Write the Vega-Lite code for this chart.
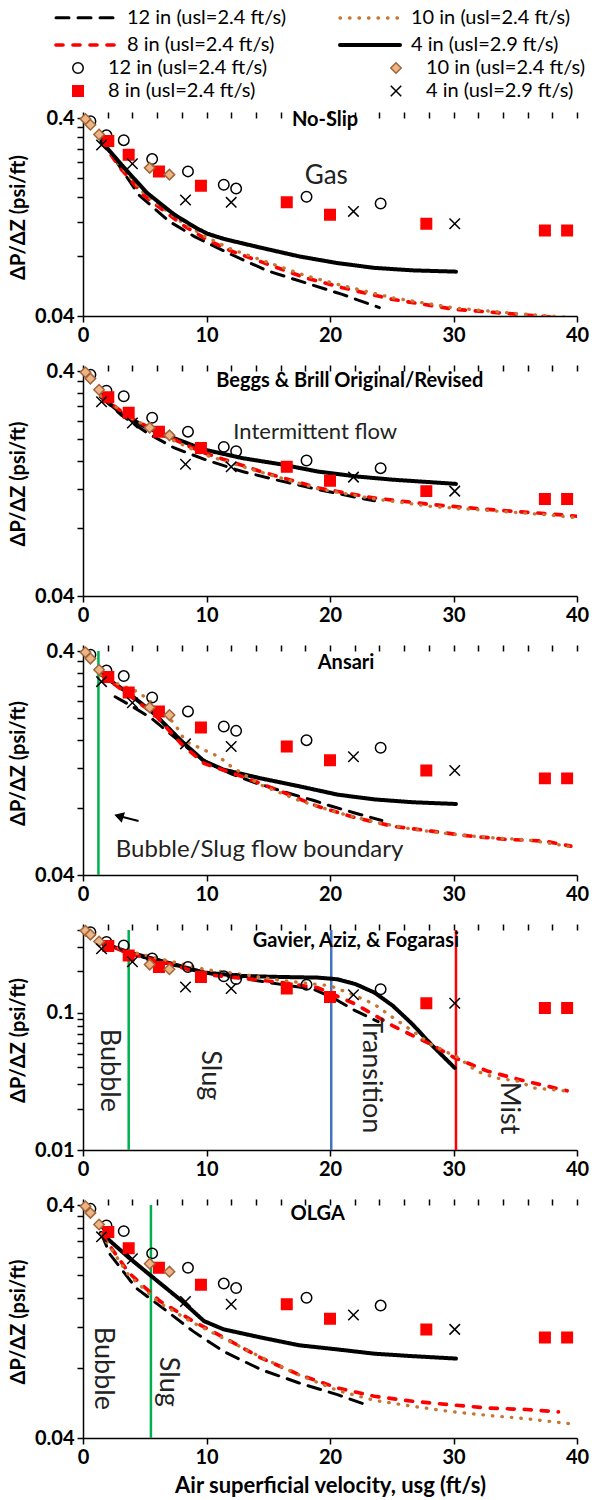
{
  "$schema": "https://vega.github.io/schema/vega-lite/v6.json",
  "background": "white",
  "padding": {"left": 8, "top": 6, "right": 5, "bottom": 5},
  "bounds": "flush",
  "spacing": 55,
  "resolve": {"scale": {"x": "independent", "y": "independent"}},
  "config": {
    "view": {"stroke": null},
    "font": "Lato",
    "axis": {"domainColor": "black", "domainWidth": 1.5, "tickColor": "black", "tickWidth": 1.5, "tickSize": 6, "labelColor": "black", "labelFont": "Lato", "labelFontSize": 20, "labelFontWeight": "bold", "labelFlush": false, "labelOverlap": false, "titleFont": "Lato", "titleFontSize": 20, "titleFontWeight": "bold", "titleColor": "black", "grid": false, "labelPadding": 3},
    "axisY": {"titlePadding": 6},
    "axisX": {"titlePadding": 8, "titleFontSize": 22},
    "legend": {"labelFont": "Lato", "labelFontSize": 20, "labelColor": "black", "labelLimit": 400}
  },
  "datasets": {
    "pts": [
      {"e": "12", "x": 0.6, "y": 0.385}, {"e": "12", "x": 1.9, "y": 0.327}, {"e": "12", "x": 3.3, "y": 0.309}, {"e": "12", "x": 5.6, "y": 0.248}, {"e": "12", "x": 8.5, "y": 0.215}, {"e": "12", "x": 11.4, "y": 0.184}, {"e": "12", "x": 12.4, "y": 0.176}, {"e": "12", "x": 18.1, "y": 0.16}, {"e": "12", "x": 24.1, "y": 0.148},
      {"e": "8", "x": 2.05, "y": 0.306}, {"e": "8", "x": 3.7, "y": 0.261}, {"e": "8", "x": 6.15, "y": 0.215}, {"e": "8", "x": 9.55, "y": 0.182}, {"e": "8", "x": 16.5, "y": 0.15}, {"e": "8", "x": 20, "y": 0.13}, {"e": "8", "x": 27.8, "y": 0.117}, {"e": "8", "x": 37.4, "y": 0.108}, {"e": "8", "x": 39.2, "y": 0.108},
      {"e": "10", "x": 0.2, "y": 0.395}, {"e": "10", "x": 0.6, "y": 0.37}, {"e": "10", "x": 1.3, "y": 0.33}, {"e": "10", "x": 5.4, "y": 0.224}, {"e": "10", "x": 7.0, "y": 0.207},
      {"e": "4", "x": 1.5, "y": 0.292}, {"e": "4", "x": 4.0, "y": 0.235}, {"e": "4", "x": 8.3, "y": 0.154}, {"e": "4", "x": 12.0, "y": 0.15}, {"e": "4", "x": 21.9, "y": 0.135}, {"e": "4", "x": 30.1, "y": 0.117}
    ],
    "lines": [
      {"p": "noslip", "m": "12 in", "x": 1.5, "y": 0.305}, {"p": "noslip", "m": "12 in", "x": 2.5, "y": 0.252}, {"p": "noslip", "m": "12 in", "x": 4.5, "y": 0.164}, {"p": "noslip", "m": "12 in", "x": 7, "y": 0.12}, {"p": "noslip", "m": "12 in", "x": 9, "y": 0.101}, {"p": "noslip", "m": "12 in", "x": 12, "y": 0.0818}, {"p": "noslip", "m": "12 in", "x": 15, "y": 0.0674}, {"p": "noslip", "m": "12 in", "x": 18, "y": 0.0589}, {"p": "noslip", "m": "12 in", "x": 21, "y": 0.0514}, {"p": "noslip", "m": "12 in", "x": 24, "y": 0.0441},
      {"p": "noslip", "m": "8 in", "x": 1.5, "y": 0.305}, {"p": "noslip", "m": "8 in", "x": 3, "y": 0.224}, {"p": "noslip", "m": "8 in", "x": 5, "y": 0.161}, {"p": "noslip", "m": "8 in", "x": 8, "y": 0.116}, {"p": "noslip", "m": "8 in", "x": 10, "y": 0.0975}, {"p": "noslip", "m": "8 in", "x": 12, "y": 0.0851}, {"p": "noslip", "m": "8 in", "x": 15, "y": 0.0729}, {"p": "noslip", "m": "8 in", "x": 18, "y": 0.0624}, {"p": "noslip", "m": "8 in", "x": 21, "y": 0.0556}, {"p": "noslip", "m": "8 in", "x": 25, "y": 0.0486}, {"p": "noslip", "m": "8 in", "x": 30, "y": 0.0433}, {"p": "noslip", "m": "8 in", "x": 35, "y": 0.0409}, {"p": "noslip", "m": "8 in", "x": 39, "y": 0.039}, {"p": "noslip", "m": "8 in", "x": 40, "y": 0.0385},
      {"p": "noslip", "m": "10 in", "x": 1.5, "y": 0.31}, {"p": "noslip", "m": "10 in", "x": 3, "y": 0.23}, {"p": "noslip", "m": "10 in", "x": 5, "y": 0.165}, {"p": "noslip", "m": "10 in", "x": 8, "y": 0.119}, {"p": "noslip", "m": "10 in", "x": 10, "y": 0.1}, {"p": "noslip", "m": "10 in", "x": 12, "y": 0.087}, {"p": "noslip", "m": "10 in", "x": 15, "y": 0.0745}, {"p": "noslip", "m": "10 in", "x": 18, "y": 0.064}, {"p": "noslip", "m": "10 in", "x": 21, "y": 0.057}, {"p": "noslip", "m": "10 in", "x": 25, "y": 0.0495}, {"p": "noslip", "m": "10 in", "x": 30, "y": 0.044}, {"p": "noslip", "m": "10 in", "x": 35, "y": 0.0412}, {"p": "noslip", "m": "10 in", "x": 39, "y": 0.0395}, {"p": "noslip", "m": "10 in", "x": 40, "y": 0.039},
      {"p": "noslip", "m": "4 in", "x": 1.5, "y": 0.305}, {"p": "noslip", "m": "4 in", "x": 3.1, "y": 0.233}, {"p": "noslip", "m": "4 in", "x": 5.2, "y": 0.167}, {"p": "noslip", "m": "4 in", "x": 7.4, "y": 0.13}, {"p": "noslip", "m": "4 in", "x": 9.2, "y": 0.111}, {"p": "noslip", "m": "4 in", "x": 10.1, "y": 0.104}, {"p": "noslip", "m": "4 in", "x": 11.4, "y": 0.098}, {"p": "noslip", "m": "4 in", "x": 14.4, "y": 0.0885}, {"p": "noslip", "m": "4 in", "x": 17.5, "y": 0.08}, {"p": "noslip", "m": "4 in", "x": 20.6, "y": 0.074}, {"p": "noslip", "m": "4 in", "x": 23.6, "y": 0.07}, {"p": "noslip", "m": "4 in", "x": 26.7, "y": 0.068}, {"p": "noslip", "m": "4 in", "x": 30.2, "y": 0.067},

      {"p": "bb", "m": "4 in", "x": 1.45, "y": 0.308}, {"p": "bb", "m": "4 in", "x": 3.1, "y": 0.26}, {"p": "bb", "m": "4 in", "x": 5.2, "y": 0.223}, {"p": "bb", "m": "4 in", "x": 7.7, "y": 0.198}, {"p": "bb", "m": "4 in", "x": 9.8, "y": 0.179}, {"p": "bb", "m": "4 in", "x": 12.9, "y": 0.164}, {"p": "bb", "m": "4 in", "x": 16, "y": 0.154}, {"p": "bb", "m": "4 in", "x": 19, "y": 0.143}, {"p": "bb", "m": "4 in", "x": 22.1, "y": 0.136}, {"p": "bb", "m": "4 in", "x": 25.1, "y": 0.1315}, {"p": "bb", "m": "4 in", "x": 30.2, "y": 0.126},
      {"p": "bb", "m": "12 in", "x": 1.45, "y": 0.308}, {"p": "bb", "m": "12 in", "x": 3.1, "y": 0.255}, {"p": "bb", "m": "12 in", "x": 5.2, "y": 0.212}, {"p": "bb", "m": "12 in", "x": 7.4, "y": 0.182}, {"p": "bb", "m": "12 in", "x": 10.1, "y": 0.16}, {"p": "bb", "m": "12 in", "x": 12.9, "y": 0.143}, {"p": "bb", "m": "12 in", "x": 15.7, "y": 0.131}, {"p": "bb", "m": "12 in", "x": 19, "y": 0.119}, {"p": "bb", "m": "12 in", "x": 22.4, "y": 0.109}, {"p": "bb", "m": "12 in", "x": 23.6, "y": 0.106},
      {"p": "bb", "m": "8 in", "x": 1.45, "y": 0.31}, {"p": "bb", "m": "8 in", "x": 3.7, "y": 0.25}, {"p": "bb", "m": "8 in", "x": 6.2, "y": 0.212}, {"p": "bb", "m": "8 in", "x": 9.8, "y": 0.173}, {"p": "bb", "m": "8 in", "x": 14.4, "y": 0.143}, {"p": "bb", "m": "8 in", "x": 19, "y": 0.121}, {"p": "bb", "m": "8 in", "x": 23.6, "y": 0.109}, {"p": "bb", "m": "8 in", "x": 28.2, "y": 0.102}, {"p": "bb", "m": "8 in", "x": 32.8, "y": 0.097}, {"p": "bb", "m": "8 in", "x": 37.4, "y": 0.093}, {"p": "bb", "m": "8 in", "x": 40, "y": 0.0905},
      {"p": "bb", "m": "10 in", "x": 1.45, "y": 0.31}, {"p": "bb", "m": "10 in", "x": 3.7, "y": 0.252}, {"p": "bb", "m": "10 in", "x": 6.2, "y": 0.21}, {"p": "bb", "m": "10 in", "x": 9.8, "y": 0.17}, {"p": "bb", "m": "10 in", "x": 14.4, "y": 0.142}, {"p": "bb", "m": "10 in", "x": 19, "y": 0.12}, {"p": "bb", "m": "10 in", "x": 23.6, "y": 0.108}, {"p": "bb", "m": "10 in", "x": 28.2, "y": 0.1}, {"p": "bb", "m": "10 in", "x": 32.8, "y": 0.096}, {"p": "bb", "m": "10 in", "x": 37.4, "y": 0.092}, {"p": "bb", "m": "10 in", "x": 40, "y": 0.089},

      {"p": "ansari", "m": "4 in", "x": 1.45, "y": 0.315}, {"p": "ansari", "m": "4 in", "x": 3.7, "y": 0.259}, {"p": "ansari", "m": "4 in", "x": 5.85, "y": 0.208}, {"p": "ansari", "m": "4 in", "x": 8, "y": 0.158}, {"p": "ansari", "m": "4 in", "x": 9.8, "y": 0.129}, {"p": "ansari", "m": "4 in", "x": 11.4, "y": 0.118}, {"p": "ansari", "m": "4 in", "x": 14.4, "y": 0.108}, {"p": "ansari", "m": "4 in", "x": 17.5, "y": 0.0996}, {"p": "ansari", "m": "4 in", "x": 20.6, "y": 0.0914}, {"p": "ansari", "m": "4 in", "x": 23.6, "y": 0.087}, {"p": "ansari", "m": "4 in", "x": 26.7, "y": 0.0845}, {"p": "ansari", "m": "4 in", "x": 30.2, "y": 0.083},
      {"p": "ansari", "m": "12 in", "x": 2.6, "y": 0.25}, {"p": "ansari", "m": "12 in", "x": 4, "y": 0.226}, {"p": "ansari", "m": "12 in", "x": 5.5, "y": 0.201}, {"p": "ansari", "m": "12 in", "x": 7, "y": 0.172}, {"p": "ansari", "m": "12 in", "x": 8.5, "y": 0.147}, {"p": "ansari", "m": "12 in", "x": 10, "y": 0.128}, {"p": "ansari", "m": "12 in", "x": 12, "y": 0.113}, {"p": "ansari", "m": "12 in", "x": 14, "y": 0.103}, {"p": "ansari", "m": "12 in", "x": 17, "y": 0.0915}, {"p": "ansari", "m": "12 in", "x": 18.7, "y": 0.086}, {"p": "ansari", "m": "12 in", "x": 20, "y": 0.0815}, {"p": "ansari", "m": "12 in", "x": 22, "y": 0.0757}, {"p": "ansari", "m": "12 in", "x": 24.2, "y": 0.07},
      {"p": "ansari", "m": "8 in", "x": 1.45, "y": 0.315}, {"p": "ansari", "m": "8 in", "x": 3.7, "y": 0.255}, {"p": "ansari", "m": "8 in", "x": 5.85, "y": 0.207}, {"p": "ansari", "m": "8 in", "x": 8, "y": 0.153}, {"p": "ansari", "m": "8 in", "x": 9.8, "y": 0.126}, {"p": "ansari", "m": "8 in", "x": 12.9, "y": 0.11}, {"p": "ansari", "m": "8 in", "x": 16, "y": 0.0946}, {"p": "ansari", "m": "8 in", "x": 19, "y": 0.081}, {"p": "ansari", "m": "8 in", "x": 22.1, "y": 0.072}, {"p": "ansari", "m": "8 in", "x": 25.1, "y": 0.066}, {"p": "ansari", "m": "8 in", "x": 28.2, "y": 0.0628}, {"p": "ansari", "m": "8 in", "x": 31.3, "y": 0.0597}, {"p": "ansari", "m": "8 in", "x": 34.3, "y": 0.0577}, {"p": "ansari", "m": "8 in", "x": 37.4, "y": 0.0567}, {"p": "ansari", "m": "8 in", "x": 39.5, "y": 0.0538},
      {"p": "ansari", "m": "10 in", "x": 1.45, "y": 0.315}, {"p": "ansari", "m": "10 in", "x": 2.5, "y": 0.29}, {"p": "ansari", "m": "10 in", "x": 4.5, "y": 0.262}, {"p": "ansari", "m": "10 in", "x": 6, "y": 0.225}, {"p": "ansari", "m": "10 in", "x": 7.4, "y": 0.19}, {"p": "ansari", "m": "10 in", "x": 8.3, "y": 0.158}, {"p": "ansari", "m": "10 in", "x": 11, "y": 0.135}, {"p": "ansari", "m": "10 in", "x": 12, "y": 0.122}, {"p": "ansari", "m": "10 in", "x": 14.4, "y": 0.101}, {"p": "ansari", "m": "10 in", "x": 17.5, "y": 0.086}, {"p": "ansari", "m": "10 in", "x": 20.6, "y": 0.076}, {"p": "ansari", "m": "10 in", "x": 23.6, "y": 0.069}, {"p": "ansari", "m": "10 in", "x": 26.7, "y": 0.064}, {"p": "ansari", "m": "10 in", "x": 29.7, "y": 0.061}, {"p": "ansari", "m": "10 in", "x": 32.8, "y": 0.0588}, {"p": "ansari", "m": "10 in", "x": 35.9, "y": 0.0575}, {"p": "ansari", "m": "10 in", "x": 39.5, "y": 0.0535},

      {"p": "gaf", "m": "4 in", "x": 1.45, "y": 0.325}, {"p": "gaf", "m": "4 in", "x": 3.7, "y": 0.275}, {"p": "gaf", "m": "4 in", "x": 6.8, "y": 0.232}, {"p": "gaf", "m": "4 in", "x": 9.8, "y": 0.196}, {"p": "gaf", "m": "4 in", "x": 12.9, "y": 0.185}, {"p": "gaf", "m": "4 in", "x": 16, "y": 0.182}, {"p": "gaf", "m": "4 in", "x": 19, "y": 0.18}, {"p": "gaf", "m": "4 in", "x": 20.6, "y": 0.175}, {"p": "gaf", "m": "4 in", "x": 22.1, "y": 0.161}, {"p": "gaf", "m": "4 in", "x": 23.6, "y": 0.14}, {"p": "gaf", "m": "4 in", "x": 25.1, "y": 0.112}, {"p": "gaf", "m": "4 in", "x": 26.7, "y": 0.082}, {"p": "gaf", "m": "4 in", "x": 28.2, "y": 0.0586}, {"p": "gaf", "m": "4 in", "x": 30.1, "y": 0.0396},
      {"p": "gaf", "m": "12 in", "x": 1.45, "y": 0.325}, {"p": "gaf", "m": "12 in", "x": 3.7, "y": 0.27}, {"p": "gaf", "m": "12 in", "x": 6.8, "y": 0.228}, {"p": "gaf", "m": "12 in", "x": 9.8, "y": 0.195}, {"p": "gaf", "m": "12 in", "x": 12.9, "y": 0.178}, {"p": "gaf", "m": "12 in", "x": 15, "y": 0.166}, {"p": "gaf", "m": "12 in", "x": 18.7, "y": 0.148}, {"p": "gaf", "m": "12 in", "x": 20.2, "y": 0.129}, {"p": "gaf", "m": "12 in", "x": 22, "y": 0.104}, {"p": "gaf", "m": "12 in", "x": 23.9, "y": 0.086},
      {"p": "gaf", "m": "8 in", "x": 1.45, "y": 0.33}, {"p": "gaf", "m": "8 in", "x": 3.7, "y": 0.27}, {"p": "gaf", "m": "8 in", "x": 6.8, "y": 0.23}, {"p": "gaf", "m": "8 in", "x": 9.8, "y": 0.19}, {"p": "gaf", "m": "8 in", "x": 12.9, "y": 0.178}, {"p": "gaf", "m": "8 in", "x": 16, "y": 0.166}, {"p": "gaf", "m": "8 in", "x": 19, "y": 0.152}, {"p": "gaf", "m": "8 in", "x": 22.1, "y": 0.115}, {"p": "gaf", "m": "8 in", "x": 25.1, "y": 0.08}, {"p": "gaf", "m": "8 in", "x": 28.2, "y": 0.0586}, {"p": "gaf", "m": "8 in", "x": 30.1, "y": 0.0469}, {"p": "gaf", "m": "8 in", "x": 32.8, "y": 0.0374}, {"p": "gaf", "m": "8 in", "x": 35.9, "y": 0.0316}, {"p": "gaf", "m": "8 in", "x": 39.2, "y": 0.027},
      {"p": "gaf", "m": "10 in", "x": 1.45, "y": 0.33}, {"p": "gaf", "m": "10 in", "x": 3.7, "y": 0.28}, {"p": "gaf", "m": "10 in", "x": 6.8, "y": 0.24}, {"p": "gaf", "m": "10 in", "x": 9.8, "y": 0.207}, {"p": "gaf", "m": "10 in", "x": 12.9, "y": 0.19}, {"p": "gaf", "m": "10 in", "x": 16, "y": 0.172}, {"p": "gaf", "m": "10 in", "x": 20, "y": 0.157}, {"p": "gaf", "m": "10 in", "x": 21.8, "y": 0.136}, {"p": "gaf", "m": "10 in", "x": 23.6, "y": 0.115}, {"p": "gaf", "m": "10 in", "x": 25.1, "y": 0.092}, {"p": "gaf", "m": "10 in", "x": 26.7, "y": 0.0734}, {"p": "gaf", "m": "10 in", "x": 28.2, "y": 0.0586}, {"p": "gaf", "m": "10 in", "x": 30.4, "y": 0.047}, {"p": "gaf", "m": "10 in", "x": 31.9, "y": 0.0374}, {"p": "gaf", "m": "10 in", "x": 33.4, "y": 0.0335}, {"p": "gaf", "m": "10 in", "x": 35.3, "y": 0.0316}, {"p": "gaf", "m": "10 in", "x": 36.5, "y": 0.0283}, {"p": "gaf", "m": "10 in", "x": 38.9, "y": 0.027},

      {"p": "olga", "m": "4 in", "x": 1.45, "y": 0.304}, {"p": "olga", "m": "4 in", "x": 3.7, "y": 0.238}, {"p": "olga", "m": "4 in", "x": 5.85, "y": 0.192}, {"p": "olga", "m": "4 in", "x": 8, "y": 0.155}, {"p": "olga", "m": "4 in", "x": 9.8, "y": 0.127}, {"p": "olga", "m": "4 in", "x": 11.4, "y": 0.117}, {"p": "olga", "m": "4 in", "x": 14.4, "y": 0.108}, {"p": "olga", "m": "4 in", "x": 17.5, "y": 0.1}, {"p": "olga", "m": "4 in", "x": 20.6, "y": 0.096}, {"p": "olga", "m": "4 in", "x": 23.6, "y": 0.092}, {"p": "olga", "m": "4 in", "x": 26.7, "y": 0.0898}, {"p": "olga", "m": "4 in", "x": 30.2, "y": 0.0877},
      {"p": "olga", "m": "12 in", "x": 1.5, "y": 0.3}, {"p": "olga", "m": "12 in", "x": 2.2, "y": 0.245}, {"p": "olga", "m": "12 in", "x": 4.3, "y": 0.176}, {"p": "olga", "m": "12 in", "x": 6.8, "y": 0.14}, {"p": "olga", "m": "12 in", "x": 8.9, "y": 0.115}, {"p": "olga", "m": "12 in", "x": 11.4, "y": 0.094}, {"p": "olga", "m": "12 in", "x": 14.4, "y": 0.0787}, {"p": "olga", "m": "12 in", "x": 17.5, "y": 0.0689}, {"p": "olga", "m": "12 in", "x": 20.6, "y": 0.0614}, {"p": "olga", "m": "12 in", "x": 23.3, "y": 0.0547},
      {"p": "olga", "m": "8 in", "x": 1.5, "y": 0.3}, {"p": "olga", "m": "8 in", "x": 1.9, "y": 0.28}, {"p": "olga", "m": "8 in", "x": 3.7, "y": 0.205}, {"p": "olga", "m": "8 in", "x": 6.2, "y": 0.155}, {"p": "olga", "m": "8 in", "x": 8.9, "y": 0.127}, {"p": "olga", "m": "8 in", "x": 11.4, "y": 0.108}, {"p": "olga", "m": "8 in", "x": 14.4, "y": 0.0883}, {"p": "olga", "m": "8 in", "x": 17.5, "y": 0.0748}, {"p": "olga", "m": "8 in", "x": 20.6, "y": 0.0656}, {"p": "olga", "m": "8 in", "x": 23.6, "y": 0.0604}, {"p": "olga", "m": "8 in", "x": 26.7, "y": 0.0575}, {"p": "olga", "m": "8 in", "x": 29.7, "y": 0.0556}, {"p": "olga", "m": "8 in", "x": 32.8, "y": 0.0538}, {"p": "olga", "m": "8 in", "x": 35.9, "y": 0.053}, {"p": "olga", "m": "8 in", "x": 38.5, "y": 0.0518},
      {"p": "olga", "m": "10 in", "x": 1.5, "y": 0.3}, {"p": "olga", "m": "10 in", "x": 3.7, "y": 0.2}, {"p": "olga", "m": "10 in", "x": 6.2, "y": 0.152}, {"p": "olga", "m": "10 in", "x": 8.9, "y": 0.125}, {"p": "olga", "m": "10 in", "x": 11.4, "y": 0.107}, {"p": "olga", "m": "10 in", "x": 14.4, "y": 0.089}, {"p": "olga", "m": "10 in", "x": 17.5, "y": 0.0745}, {"p": "olga", "m": "10 in", "x": 20.6, "y": 0.064}, {"p": "olga", "m": "10 in", "x": 23.6, "y": 0.058}, {"p": "olga", "m": "10 in", "x": 26.7, "y": 0.0547}, {"p": "olga", "m": "10 in", "x": 29.7, "y": 0.052}, {"p": "olga", "m": "10 in", "x": 32.8, "y": 0.05}, {"p": "olga", "m": "10 in", "x": 35.9, "y": 0.0484}, {"p": "olga", "m": "10 in", "x": 39.5, "y": 0.046}
    ],
    "notes": [
      {"p": "noslip", "k": "title", "x": 19.6, "y": 0.39, "t": "No-Slip"},
      {"p": "bb", "k": "title", "x": 21.6, "y": 0.36, "t": "Beggs & Brill Original/Revised"},
      {"p": "ansari", "k": "title", "x": 21.3, "y": 0.355, "t": "Ansari"},
      {"p": "gaf", "k": "title", "x": 22.1, "y": 0.33, "t": "Gavier, Aziz, & Fogarasi"},
      {"p": "olga", "k": "title", "x": 19.0, "y": 0.365, "t": "OLGA"},
      {"p": "noslip", "k": "note", "x": 19.7, "y": 0.203, "t": "Gas"},
      {"p": "bb", "k": "note", "x": 18.8, "y": 0.215, "t": "Intermittent flow"},
      {"p": "ansari", "k": "note", "x": 14.3, "y": 0.0515, "t": "Bubble/Slug flow boundary"},
      {"p": "gaf", "k": "vnote", "x": 2.1, "y": 0.038, "t": "Bubble"},
      {"p": "gaf", "k": "vnote", "x": 10.3, "y": 0.035, "t": "Slug"},
      {"p": "gaf", "k": "vnote", "x": 23.3, "y": 0.035, "t": "Transition"},
      {"p": "gaf", "k": "vnote", "x": 34.5, "y": 0.0202, "t": "Mist"},
      {"p": "olga", "k": "vnote", "x": 1.6, "y": 0.0796, "t": "Bubble"},
      {"p": "olga", "k": "vnote", "x": 6.9, "y": 0.0697, "t": "Slug"}
    ],
    "bounds": [
      {"p": "ansari", "r": "bubble-slug", "x": 1.25},
      {"p": "gaf", "r": "bubble-slug", "x": 3.7},
      {"p": "gaf", "r": "slug-transition", "x": 20.1},
      {"p": "gaf", "r": "transition-mist", "x": 30.2},
      {"p": "olga", "r": "bubble-slug", "x": 5.5}
    ],
    "arrow": [
      {"p": "ansari", "x": 4.5, "y": 0.0697, "x2": 2.9, "y2": 0.0733}
    ]
  },
  "vconcat": [
    {
      "width": 494, "height": 198,
      "resolve": {"axis": {"x": "independent"}},
      "layer": [
        {"data": {"name": "lines"}, "transform": [{"filter": "datum.p == 'noslip'"}],
         "mark": {"type": "line", "strokeCap": "round", "clip": true},
         "encoding": {
           "x": {"field": "x", "type": "quantitative", "scale": {"domain": [0, 40], "nice": false, "zero": false}, "axis": {"values": [0,10,20,30,40], "title": null}},
           "y": {"field": "y", "type": "quantitative", "scale": {"type": "log", "domain": [0.04, 0.4], "nice": false}, "axis": {"values": [0.04,0.08,0.12,0.16,0.2,0.24,0.28,0.32,0.36,0.4], "format": "~g", "labelExpr": "datum.value == 0.04 || datum.value == 0.4 ? datum.label : ''", "title": "ΔP/ΔZ  (psi/ft)"}},
           "color": {"field": "m", "type": "nominal", "scale": {"domain": ["12 in","10 in","8 in","4 in"], "range": ["black","#C87533","#FF0000","black"]},
             "legend": {"orient": "none", "direction": "horizontal", "legendX": -9, "legendY": -112, "columns": 2, "columnPadding": 45, "rowPadding": 5, "title": null, "symbolType": "M-3,0L3,0", "symbolSize": 400, "labelOffset": 29, "encode": {"symbols": {"update": {"strokeCap": {"value": "round"}}}}, "labelExpr": "datum.value == '4 in' ? '4 in (usl=2.9 ft/s)' : datum.value + ' (usl=2.4 ft/s)'"}},
           "strokeDash": {"field": "m", "type": "nominal", "scale": {"domain": ["12 in","10 in","8 in","4 in"], "range": [[13,9],[0.5,9],[7,10],[1,0]]}},
           "strokeWidth": {"field": "m", "type": "nominal", "scale": {"domain": ["12 in","10 in","8 in","4 in"], "range": [3,4,3,2.5]}}
         }},
        {"data": {"name": "pts"}, "mark": {"type": "point", "size": 110, "strokeWidth": 1.5, "opacity": 1},
         "encoding": {
           "x": {"field": "x", "type": "quantitative", "axis": {"values": [0,2,4,6,8,10,12,14,16,18,20,22,24,26,28,30,32,34,36,38,40], "labels": false, "domain": false, "title": null}},
           "y": {"field": "y", "type": "quantitative", "scale": {"type": "log"}, "title": "ΔP/ΔZ  (psi/ft)"},
           "shape": {"field": "e", "type": "nominal", "scale": {"domain": ["12","10","8","4"], "range": ["circle","diamond","square","M-1,-1L1,1M-1,1L1,-1"]},
             "legend": {"orient": "none", "direction": "horizontal", "legendX": -15, "legendY": -60, "columns": 2, "columnPadding": 118, "rowPadding": 3, "title": null, "symbolSize": 110, "symbolStrokeWidth": 1.5, "labelOffset": 20, "labelExpr": "datum.value == '4' ? '4 in (usl=2.9 ft/s)' : datum.value + ' in (usl=2.4 ft/s)'"}},
           "fill": {"field": "e", "type": "nominal", "scale": {"domain": ["12","10","8","4"], "range": ["transparent","#EDB586","#FF0000","transparent"]}},
           "stroke": {"field": "e", "type": "nominal", "scale": {"domain": ["12","10","8","4"], "range": ["black","#A0653A","#FF0000","black"]}}
         }},
        {"data": {"name": "notes"}, "transform": [{"filter": "datum.p == 'noslip' && datum.k == 'title'"}],
         "mark": {"type": "text", "font": "Lato", "fontWeight": "bold", "fontSize": 20, "color": "black", "baseline": "middle", "align": "center"},
         "encoding": {"x": {"field": "x", "type": "quantitative", "axis": null}, "y": {"field": "y", "type": "quantitative", "scale": {"type": "log"}, "title": "ΔP/ΔZ  (psi/ft)"}, "text": {"field": "t"}}},
        {"data": {"name": "notes"}, "transform": [{"filter": "datum.p == 'noslip' && datum.k == 'note'"}],
         "mark": {"type": "text", "font": "Lato", "fontSize": 26, "color": "#222222", "baseline": "middle", "align": "center"},
         "encoding": {"x": {"field": "x", "type": "quantitative", "axis": null}, "y": {"field": "y", "type": "quantitative", "scale": {"type": "log"}, "title": "ΔP/ΔZ  (psi/ft)"}, "text": {"field": "t"}}}
      ]
    },
    {
      "width": 494, "height": 225,
      "resolve": {"axis": {"x": "independent"}},
      "layer": [
        {"data": {"name": "lines"}, "transform": [{"filter": "datum.p == 'bb'"}],
         "mark": {"type": "line", "strokeCap": "round", "clip": true},
         "encoding": {
           "x": {"field": "x", "type": "quantitative", "scale": {"domain": [0, 40], "nice": false, "zero": false}, "axis": {"values": [0,10,20,30,40], "title": null}},
           "y": {"field": "y", "type": "quantitative", "scale": {"type": "log", "domain": [0.04, 0.4], "nice": false}, "axis": {"values": [0.04,0.08,0.12,0.16,0.2,0.24,0.28,0.32,0.36,0.4], "format": "~g", "labelExpr": "datum.value == 0.04 || datum.value == 0.4 ? datum.label : ''", "title": "ΔP/ΔZ  (psi/ft)"}},
           "color": {"field": "m", "type": "nominal", "scale": {"domain": ["12 in","10 in","8 in","4 in"], "range": ["black","#C87533","#FF0000","black"]},
             "legend": {"orient": "none", "direction": "horizontal", "legendX": -9, "legendY": -112, "columns": 2, "columnPadding": 45, "rowPadding": 5, "title": null, "symbolType": "M-3,0L3,0", "symbolSize": 400, "labelOffset": 29, "encode": {"symbols": {"update": {"strokeCap": {"value": "round"}}}}, "labelExpr": "datum.value == '4 in' ? '4 in (usl=2.9 ft/s)' : datum.value + ' (usl=2.4 ft/s)'"}},
           "strokeDash": {"field": "m", "type": "nominal", "scale": {"domain": ["12 in","10 in","8 in","4 in"], "range": [[13,9],[0.5,9],[7,10],[1,0]]}},
           "strokeWidth": {"field": "m", "type": "nominal", "scale": {"domain": ["12 in","10 in","8 in","4 in"], "range": [3,4,3,2.5]}}
         }},
        {"data": {"name": "pts"}, "mark": {"type": "point", "size": 110, "strokeWidth": 1.5, "opacity": 1},
         "encoding": {
           "x": {"field": "x", "type": "quantitative", "axis": {"values": [0,2,4,6,8,10,12,14,16,18,20,22,24,26,28,30,32,34,36,38,40], "labels": false, "domain": false, "title": null}},
           "y": {"field": "y", "type": "quantitative", "scale": {"type": "log"}, "title": "ΔP/ΔZ  (psi/ft)"},
           "shape": {"field": "e", "type": "nominal", "scale": {"domain": ["12","10","8","4"], "range": ["circle","diamond","square","M-1,-1L1,1M-1,1L1,-1"]},
             "legend": {"orient": "none", "direction": "horizontal", "legendX": -15, "legendY": -60, "columns": 2, "columnPadding": 118, "rowPadding": 3, "title": null, "symbolSize": 110, "symbolStrokeWidth": 1.5, "labelOffset": 20, "labelExpr": "datum.value == '4' ? '4 in (usl=2.9 ft/s)' : datum.value + ' in (usl=2.4 ft/s)'"}},
           "fill": {"field": "e", "type": "nominal", "scale": {"domain": ["12","10","8","4"], "range": ["transparent","#EDB586","#FF0000","transparent"]}},
           "stroke": {"field": "e", "type": "nominal", "scale": {"domain": ["12","10","8","4"], "range": ["black","#A0653A","#FF0000","black"]}}
         }},
        {"data": {"name": "notes"}, "transform": [{"filter": "datum.p == 'bb' && datum.k == 'title'"}],
         "mark": {"type": "text", "font": "Lato", "fontWeight": "bold", "fontSize": 20, "color": "black", "baseline": "middle", "align": "center"},
         "encoding": {"x": {"field": "x", "type": "quantitative", "axis": null}, "y": {"field": "y", "type": "quantitative", "scale": {"type": "log"}, "title": "ΔP/ΔZ  (psi/ft)"}, "text": {"field": "t"}}},
        {"data": {"name": "notes"}, "transform": [{"filter": "datum.p == 'bb' && datum.k == 'note'"}],
         "mark": {"type": "text", "font": "Lato", "fontSize": 22, "color": "#222222", "baseline": "middle", "align": "center"},
         "encoding": {"x": {"field": "x", "type": "quantitative", "axis": null}, "y": {"field": "y", "type": "quantitative", "scale": {"type": "log"}, "title": "ΔP/ΔZ  (psi/ft)"}, "text": {"field": "t"}}}
      ]
    },
    {
      "width": 494, "height": 224,
      "resolve": {"axis": {"x": "independent"}},
      "layer": [
        {"data": {"name": "bounds"}, "transform": [{"filter": "datum.p == 'ansari' && datum.r == 'bubble-slug'"}],
         "mark": {"type": "rule", "color": "#00B050", "strokeWidth": 2.5},
         "encoding": {"x": {"field": "x", "type": "quantitative", "axis": null}}},
        {"data": {"name": "lines"}, "transform": [{"filter": "datum.p == 'ansari'"}],
         "mark": {"type": "line", "strokeCap": "round", "clip": true},
         "encoding": {
           "x": {"field": "x", "type": "quantitative", "scale": {"domain": [0, 40], "nice": false, "zero": false}, "axis": {"values": [0,10,20,30,40], "title": null}},
           "y": {"field": "y", "type": "quantitative", "scale": {"type": "log", "domain": [0.04, 0.4], "nice": false}, "axis": {"values": [0.04,0.08,0.12,0.16,0.2,0.24,0.28,0.32,0.36,0.4], "format": "~g", "labelExpr": "datum.value == 0.04 || datum.value == 0.4 ? datum.label : ''", "title": "ΔP/ΔZ  (psi/ft)"}},
           "color": {"field": "m", "type": "nominal", "scale": {"domain": ["12 in","10 in","8 in","4 in"], "range": ["black","#C87533","#FF0000","black"]},
             "legend": {"orient": "none", "direction": "horizontal", "legendX": -9, "legendY": -112, "columns": 2, "columnPadding": 45, "rowPadding": 5, "title": null, "symbolType": "M-3,0L3,0", "symbolSize": 400, "labelOffset": 29, "encode": {"symbols": {"update": {"strokeCap": {"value": "round"}}}}, "labelExpr": "datum.value == '4 in' ? '4 in (usl=2.9 ft/s)' : datum.value + ' (usl=2.4 ft/s)'"}},
           "strokeDash": {"field": "m", "type": "nominal", "scale": {"domain": ["12 in","10 in","8 in","4 in"], "range": [[13,9],[0.5,9],[7,10],[1,0]]}},
           "strokeWidth": {"field": "m", "type": "nominal", "scale": {"domain": ["12 in","10 in","8 in","4 in"], "range": [3,4,3,2.5]}}
         }},
        {"data": {"name": "pts"}, "mark": {"type": "point", "size": 110, "strokeWidth": 1.5, "opacity": 1},
         "encoding": {
           "x": {"field": "x", "type": "quantitative", "axis": {"values": [0,2,4,6,8,10,12,14,16,18,20,22,24,26,28,30,32,34,36,38,40], "labels": false, "domain": false, "title": null}},
           "y": {"field": "y", "type": "quantitative", "scale": {"type": "log"}, "title": "ΔP/ΔZ  (psi/ft)"},
           "shape": {"field": "e", "type": "nominal", "scale": {"domain": ["12","10","8","4"], "range": ["circle","diamond","square","M-1,-1L1,1M-1,1L1,-1"]},
             "legend": {"orient": "none", "direction": "horizontal", "legendX": -15, "legendY": -60, "columns": 2, "columnPadding": 118, "rowPadding": 3, "title": null, "symbolSize": 110, "symbolStrokeWidth": 1.5, "labelOffset": 20, "labelExpr": "datum.value == '4' ? '4 in (usl=2.9 ft/s)' : datum.value + ' in (usl=2.4 ft/s)'"}},
           "fill": {"field": "e", "type": "nominal", "scale": {"domain": ["12","10","8","4"], "range": ["transparent","#EDB586","#FF0000","transparent"]}},
           "stroke": {"field": "e", "type": "nominal", "scale": {"domain": ["12","10","8","4"], "range": ["black","#A0653A","#FF0000","black"]}}
         }},
        {"data": {"name": "arrow"}, "mark": {"type": "rule", "color": "black", "strokeWidth": 2},
         "encoding": {"x": {"field": "x", "type": "quantitative", "axis": null}, "y": {"field": "y", "type": "quantitative", "scale": {"type": "log"}, "title": "ΔP/ΔZ  (psi/ft)"}, "x2": {"field": "x2"}, "y2": {"field": "y2"}}},
        {"data": {"name": "arrow"}, "mark": {"type": "point", "shape": "triangle-left", "angle": 17, "size": 120, "filled": true, "color": "black", "opacity": 1},
         "encoding": {"x": {"field": "x2", "type": "quantitative", "axis": null}, "y": {"field": "y2", "type": "quantitative", "scale": {"type": "log"}, "title": "ΔP/ΔZ  (psi/ft)"}}},
        {"data": {"name": "notes"}, "transform": [{"filter": "datum.p == 'ansari' && datum.k == 'title'"}],
         "mark": {"type": "text", "font": "Lato", "fontWeight": "bold", "fontSize": 20, "color": "black", "baseline": "middle", "align": "center"},
         "encoding": {"x": {"field": "x", "type": "quantitative", "axis": null}, "y": {"field": "y", "type": "quantitative", "scale": {"type": "log"}, "title": "ΔP/ΔZ  (psi/ft)"}, "text": {"field": "t"}}},
        {"data": {"name": "notes"}, "transform": [{"filter": "datum.p == 'ansari' && datum.k == 'note'"}],
         "mark": {"type": "text", "font": "Lato", "fontSize": 24, "color": "#222222", "baseline": "middle", "align": "center"},
         "encoding": {"x": {"field": "x", "type": "quantitative", "axis": null}, "y": {"field": "y", "type": "quantitative", "scale": {"type": "log"}, "title": "ΔP/ΔZ  (psi/ft)"}, "text": {"field": "t"}}}
      ]
    },
    {
      "width": 494, "height": 220,
      "resolve": {"axis": {"x": "independent"}},
      "layer": [
        {"data": {"name": "bounds"}, "transform": [{"filter": "datum.p == 'gaf' && datum.r == 'bubble-slug'"}],
         "mark": {"type": "rule", "color": "#00B050", "strokeWidth": 2.5},
         "encoding": {"x": {"field": "x", "type": "quantitative", "axis": null}}},
        {"data": {"name": "bounds"}, "transform": [{"filter": "datum.p == 'gaf' && datum.r == 'slug-transition'"}],
         "mark": {"type": "rule", "color": "#4472C4", "strokeWidth": 2.5},
         "encoding": {"x": {"field": "x", "type": "quantitative", "axis": null}}},
        {"data": {"name": "bounds"}, "transform": [{"filter": "datum.p == 'gaf' && datum.r == 'transition-mist'"}],
         "mark": {"type": "rule", "color": "#FF0000", "strokeWidth": 2.5},
         "encoding": {"x": {"field": "x", "type": "quantitative", "axis": null}}},
        {"data": {"name": "lines"}, "transform": [{"filter": "datum.p == 'gaf'"}],
         "mark": {"type": "line", "strokeCap": "round", "clip": true},
         "encoding": {
           "x": {"field": "x", "type": "quantitative", "scale": {"domain": [0, 40], "nice": false, "zero": false}, "axis": {"values": [0,10,20,30,40], "title": null}},
           "y": {"field": "y", "type": "quantitative", "scale": {"type": "log", "domain": [0.01, 0.4], "nice": false}, "axis": {"values": [0.01,0.02,0.03,0.04,0.05,0.06,0.07,0.08,0.09,0.1,0.2,0.3,0.4], "format": "~g", "labelExpr": "datum.value == 0.01 || datum.value == 0.1 ? datum.label : ''", "title": "ΔP/ΔZ  (psi/ft)"}},
           "color": {"field": "m", "type": "nominal", "scale": {"domain": ["12 in","10 in","8 in","4 in"], "range": ["black","#C87533","#FF0000","black"]},
             "legend": {"orient": "none", "direction": "horizontal", "legendX": -9, "legendY": -112, "columns": 2, "columnPadding": 45, "rowPadding": 5, "title": null, "symbolType": "M-3,0L3,0", "symbolSize": 400, "labelOffset": 29, "encode": {"symbols": {"update": {"strokeCap": {"value": "round"}}}}, "labelExpr": "datum.value == '4 in' ? '4 in (usl=2.9 ft/s)' : datum.value + ' (usl=2.4 ft/s)'"}},
           "strokeDash": {"field": "m", "type": "nominal", "scale": {"domain": ["12 in","10 in","8 in","4 in"], "range": [[13,9],[0.5,9],[7,10],[1,0]]}},
           "strokeWidth": {"field": "m", "type": "nominal", "scale": {"domain": ["12 in","10 in","8 in","4 in"], "range": [3,4,3,2.5]}}
         }},
        {"data": {"name": "pts"}, "mark": {"type": "point", "size": 110, "strokeWidth": 1.5, "opacity": 1},
         "encoding": {
           "x": {"field": "x", "type": "quantitative", "axis": {"values": [0,2,4,6,8,10,12,14,16,18,20,22,24,26,28,30,32,34,36,38,40], "labels": false, "domain": false, "title": null}},
           "y": {"field": "y", "type": "quantitative", "scale": {"type": "log"}, "title": "ΔP/ΔZ  (psi/ft)"},
           "shape": {"field": "e", "type": "nominal", "scale": {"domain": ["12","10","8","4"], "range": ["circle","diamond","square","M-1,-1L1,1M-1,1L1,-1"]},
             "legend": {"orient": "none", "direction": "horizontal", "legendX": -15, "legendY": -60, "columns": 2, "columnPadding": 118, "rowPadding": 3, "title": null, "symbolSize": 110, "symbolStrokeWidth": 1.5, "labelOffset": 20, "labelExpr": "datum.value == '4' ? '4 in (usl=2.9 ft/s)' : datum.value + ' in (usl=2.4 ft/s)'"}},
           "fill": {"field": "e", "type": "nominal", "scale": {"domain": ["12","10","8","4"], "range": ["transparent","#EDB586","#FF0000","transparent"]}},
           "stroke": {"field": "e", "type": "nominal", "scale": {"domain": ["12","10","8","4"], "range": ["black","#A0653A","#FF0000","black"]}}
         }},
        {"data": {"name": "notes"}, "transform": [{"filter": "datum.p == 'gaf' && datum.k == 'title'"}],
         "mark": {"type": "text", "font": "Lato", "fontWeight": "bold", "fontSize": 20, "color": "black", "baseline": "middle", "align": "center"},
         "encoding": {"x": {"field": "x", "type": "quantitative", "axis": null}, "y": {"field": "y", "type": "quantitative", "scale": {"type": "log"}, "title": "ΔP/ΔZ  (psi/ft)"}, "text": {"field": "t"}}},
        {"data": {"name": "notes"}, "transform": [{"filter": "datum.p == 'gaf' && datum.k == 'vnote'"}],
         "mark": {"type": "text", "font": "Lato", "fontSize": 27, "color": "#222222", "baseline": "middle", "align": "center", "angle": 90},
         "encoding": {"x": {"field": "x", "type": "quantitative", "axis": null}, "y": {"field": "y", "type": "quantitative", "scale": {"type": "log"}, "title": "ΔP/ΔZ  (psi/ft)"}, "text": {"field": "t"}}}
      ]
    },
    {
      "width": 494, "height": 233,
      "resolve": {"axis": {"x": "independent"}},
      "layer": [
        {"data": {"name": "bounds"}, "transform": [{"filter": "datum.p == 'olga' && datum.r == 'bubble-slug'"}],
         "mark": {"type": "rule", "color": "#00B050", "strokeWidth": 2.5},
         "encoding": {"x": {"field": "x", "type": "quantitative", "axis": null}}},
        {"data": {"name": "lines"}, "transform": [{"filter": "datum.p == 'olga'"}],
         "mark": {"type": "line", "strokeCap": "round", "clip": true},
         "encoding": {
           "x": {"field": "x", "type": "quantitative", "scale": {"domain": [0, 40], "nice": false, "zero": false}, "axis": {"values": [0,10,20,30,40], "title": "Air superficial velocity, usg (ft/s)"}},
           "y": {"field": "y", "type": "quantitative", "scale": {"type": "log", "domain": [0.04, 0.4], "nice": false}, "axis": {"values": [0.04,0.08,0.12,0.16,0.2,0.24,0.28,0.32,0.36,0.4], "format": "~g", "labelExpr": "datum.value == 0.04 || datum.value == 0.4 ? datum.label : ''", "title": "ΔP/ΔZ  (psi/ft)"}},
           "color": {"field": "m", "type": "nominal", "scale": {"domain": ["12 in","10 in","8 in","4 in"], "range": ["black","#C87533","#FF0000","black"]},
             "legend": {"orient": "none", "direction": "horizontal", "legendX": -9, "legendY": -112, "columns": 2, "columnPadding": 45, "rowPadding": 5, "title": null, "symbolType": "M-3,0L3,0", "symbolSize": 400, "labelOffset": 29, "encode": {"symbols": {"update": {"strokeCap": {"value": "round"}}}}, "labelExpr": "datum.value == '4 in' ? '4 in (usl=2.9 ft/s)' : datum.value + ' (usl=2.4 ft/s)'"}},
           "strokeDash": {"field": "m", "type": "nominal", "scale": {"domain": ["12 in","10 in","8 in","4 in"], "range": [[13,9],[0.5,9],[7,10],[1,0]]}},
           "strokeWidth": {"field": "m", "type": "nominal", "scale": {"domain": ["12 in","10 in","8 in","4 in"], "range": [3,4,3,2.5]}}
         }},
        {"data": {"name": "pts"}, "mark": {"type": "point", "size": 110, "strokeWidth": 1.5, "opacity": 1},
         "encoding": {
           "x": {"field": "x", "type": "quantitative", "axis": {"values": [0,2,4,6,8,10,12,14,16,18,20,22,24,26,28,30,32,34,36,38,40], "labels": false, "domain": false, "title": null}},
           "y": {"field": "y", "type": "quantitative", "scale": {"type": "log"}, "title": "ΔP/ΔZ  (psi/ft)"},
           "shape": {"field": "e", "type": "nominal", "scale": {"domain": ["12","10","8","4"], "range": ["circle","diamond","square","M-1,-1L1,1M-1,1L1,-1"]},
             "legend": {"orient": "none", "direction": "horizontal", "legendX": -15, "legendY": -60, "columns": 2, "columnPadding": 118, "rowPadding": 3, "title": null, "symbolSize": 110, "symbolStrokeWidth": 1.5, "labelOffset": 20, "labelExpr": "datum.value == '4' ? '4 in (usl=2.9 ft/s)' : datum.value + ' in (usl=2.4 ft/s)'"}},
           "fill": {"field": "e", "type": "nominal", "scale": {"domain": ["12","10","8","4"], "range": ["transparent","#EDB586","#FF0000","transparent"]}},
           "stroke": {"field": "e", "type": "nominal", "scale": {"domain": ["12","10","8","4"], "range": ["black","#A0653A","#FF0000","black"]}}
         }},
        {"data": {"name": "notes"}, "transform": [{"filter": "datum.p == 'olga' && datum.k == 'title'"}],
         "mark": {"type": "text", "font": "Lato", "fontWeight": "bold", "fontSize": 20, "color": "black", "baseline": "middle", "align": "center"},
         "encoding": {"x": {"field": "x", "type": "quantitative", "axis": null}, "y": {"field": "y", "type": "quantitative", "scale": {"type": "log"}, "title": "ΔP/ΔZ  (psi/ft)"}, "text": {"field": "t"}}},
        {"data": {"name": "notes"}, "transform": [{"filter": "datum.p == 'olga' && datum.k == 'vnote'"}],
         "mark": {"type": "text", "font": "Lato", "fontSize": 27, "color": "#222222", "baseline": "middle", "align": "center", "angle": 90},
         "encoding": {"x": {"field": "x", "type": "quantitative", "axis": null}, "y": {"field": "y", "type": "quantitative", "scale": {"type": "log"}, "title": "ΔP/ΔZ  (psi/ft)"}, "text": {"field": "t"}}}
      ]
    }
  ]
}
